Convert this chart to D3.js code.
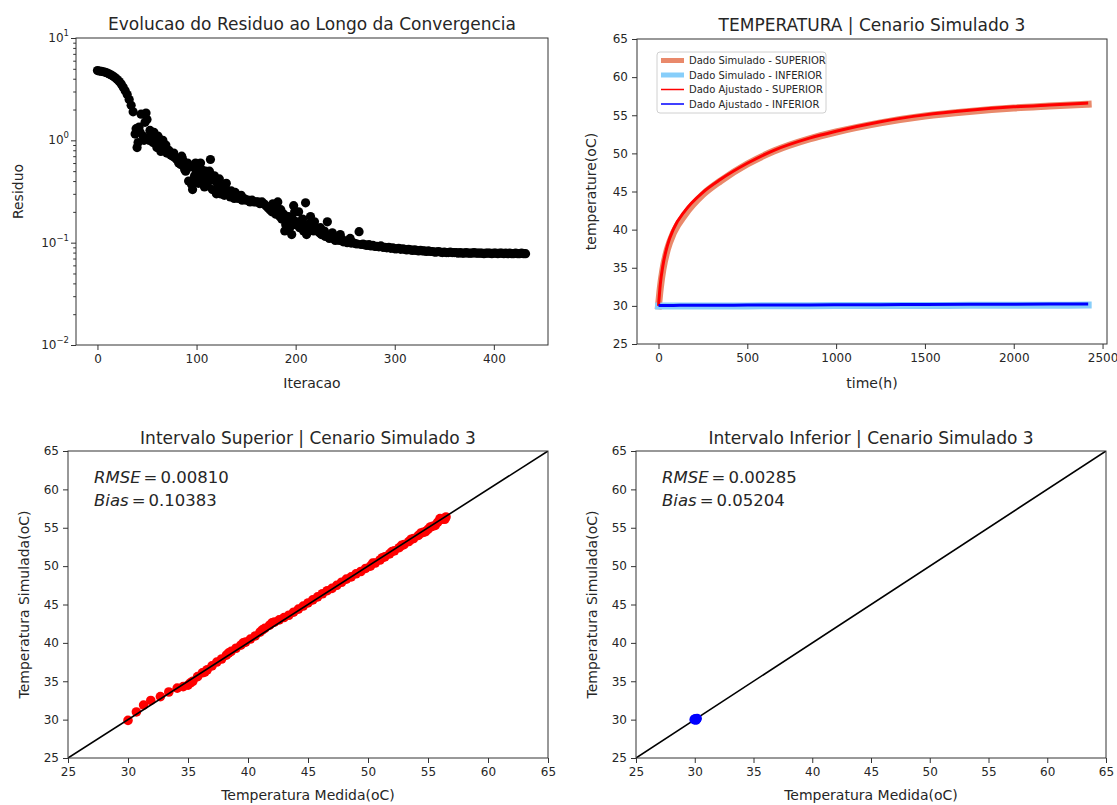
<!DOCTYPE html>
<html>
<head>
<meta charset="utf-8">
<script src="https://cdn.jsdelivr.net/npm/d3@7"></script>
<style>
body { margin: 0; background: #fff; }
text { font-family: "DejaVu Sans", sans-serif; fill: #262626; }
</style>
</head>
<body>
<svg width="1117" height="805"></svg>
<script>
// ---- residuo por iteracao (uma amostra a cada 2 iteracoes) ----
var passoIter = 2;
var residuo = [
  4.8, 4.75, 4.72, 4.68, 4.62, 4.55,
  4.45, 4.35, 4.22, 4.08, 3.92,
  3.75, 3.55, 3.3, 3.05, 2.8,
  2.5, 2.2, 1.9, 1.15,
  0.85, 1.35, 1.8, 1.1, 1.5, 1.6,
  1.0, 1.15, 0.95, 1.1, 0.85,
  1.05, 0.78, 1.0, 0.8, 0.75,
  0.8, 0.72, 0.7, 0.68, 0.65,
  0.6, 0.58, 0.65, 0.52, 0.55,
  0.4, 0.55, 0.33, 0.45, 0.5,
  0.38, 0.6, 0.42, 0.35, 0.48,
  0.4, 0.65, 0.33, 0.45, 0.3,
  0.36, 0.3, 0.33, 0.29, 0.38,
  0.3, 0.28, 0.3, 0.27, 0.29,
  0.27, 0.28, 0.26, 0.27, 0.26,
  0.26, 0.25, 0.26, 0.25, 0.25,
  0.25, 0.24, 0.25, 0.24, 0.23,
  0.22, 0.21, 0.2, 0.22, 0.19,
  0.25, 0.18, 0.17, 0.19, 0.15,
  0.16, 0.14, 0.12, 0.23, 0.15,
  0.16, 0.14, 0.15, 0.13, 0.245,
  0.15, 0.14, 0.16, 0.13, 0.14,
  0.13, 0.125, 0.12, 0.125, 0.115,
  0.16, 0.11, 0.115, 0.11, 0.105,
  0.11, 0.105, 0.11, 0.102, 0.104,
  0.1, 0.103, 0.099, 0.1, 0.098,
  0.097, 0.128, 0.096, 0.097, 0.095,
  0.094, 0.096, 0.093, 0.094, 0.092,
  0.092, 0.091, 0.093, 0.09, 0.09,
  0.089, 0.09, 0.088, 0.089, 0.087,
  0.087, 0.088, 0.086, 0.087, 0.086,
  0.085, 0.086, 0.085, 0.084, 0.085,
  0.084, 0.083, 0.084, 0.083, 0.083,
  0.082, 0.083, 0.082, 0.082, 0.081,
  0.081, 0.082, 0.081, 0.08, 0.081,
  0.08, 0.08, 0.081, 0.08, 0.08,
  0.08, 0.079, 0.08, 0.079, 0.079, 0.08, 0.079, 0.079, 0.079, 0.08, 0.079, 0.079,
  0.079, 0.079, 0.078, 0.079, 0.079, 0.079, 0.078, 0.079, 0.079, 0.078, 0.079, 0.079,
  0.078, 0.079, 0.078, 0.079, 0.078, 0.078, 0.079, 0.078, 0.078, 0.079, 0.078, 0.078
];
// pontos dispersos das iteracoes impares na fase instavel
var dispersosIter = [39, 41, 43, 47, 49, 53, 57, 59, 61, 63, 67, 69, 77, 85, 89, 91, 95, 97, 99, 101,
  103, 105, 107, 109, 111, 113, 115, 119, 121, 123, 127, 129, 135, 139, 145, 177, 181, 185, 189, 193,
  197, 199, 203, 207, 211, 215, 219, 225, 229, 237, 245, 255];
var dispersosRes = [1.3, 0.95, 1.2, 1.0, 1.85, 1.25, 1.2, 0.95, 1.1, 0.9, 0.85, 0.9, 0.75, 0.7, 0.5, 0.6, 0.37, 0.42, 0.6, 0.5,
  0.45, 0.52, 0.38, 0.5, 0.36, 0.5, 0.44, 0.4, 0.34, 0.42, 0.31, 0.35, 0.32, 0.31, 0.29, 0.24, 0.2, 0.21, 0.13, 0.18,
  0.17, 0.2, 0.2, 0.17, 0.12, 0.18, 0.16, 0.14, 0.13, 0.125, 0.12, 0.11];

// ---- temperatura ao longo do tempo ----
var tempo = [0, 10, 25, 50, 85, 150, 250, 350, 500, 650, 850, 1000, 1250, 1500, 1750, 2000, 2200, 2419];
var simSup = [30, 32.3, 34.8, 37.4, 39.6, 42.0, 44.6, 46.4, 48.6, 50.3, 51.9, 52.8, 54.0, 54.9, 55.5, 55.95, 56.2, 56.45];
var ajuSup = [30, 32.8, 35.3, 37.9, 40.1, 42.5, 44.9, 46.6, 48.7, 50.4, 52.0, 52.9, 54.15, 55.05, 55.65, 56.1, 56.35, 56.6];
var simInf = [30, 30, 30, 30, 30, 30, 30, 30, 30, 30.02, 30.03, 30.04, 30.05, 30.06, 30.07, 30.08, 30.09, 30.1];
var ajuInf = [30.05, 30.05, 30.05, 30.05, 30.06, 30.07, 30.08, 30.09, 30.1, 30.11, 30.13, 30.14, 30.16, 30.18, 30.2, 30.22, 30.24, 30.26];
var legendas = ["Dado Simulado - SUPERIOR", "Dado Simulado - INFERIOR", "Dado Ajustado - SUPERIOR", "Dado Ajustado - INFERIOR"];

// ---- medida x simulada ----
var medidaSup = [30.0, 30.7, 31.3, 31.9, 32.7, 33.4, 34.1, 34.6, 35.0, 35.4, 35.8, 36.2, 36.6, 37.0, 37.4, 37.8,
  38.2, 38.6, 39.0, 39.4, 39.8, 40.2, 40.6, 41.0, 41.4, 41.8, 42.2, 42.6, 43.0, 43.4, 43.8, 44.2, 44.6, 45.0,
  45.4, 45.8, 46.2, 46.6, 47.0, 47.4, 47.8, 48.2, 48.6, 49.0, 49.4, 49.8, 50.2, 50.6, 51.0, 51.4, 51.8, 52.2,
  52.6, 53.0, 53.4, 53.8, 54.2, 54.6, 55.0, 55.4, 55.8, 56.2, 56.5,
  50.4, 51.2, 52.0, 52.8, 53.6, 54.4, 55.2, 56.0, 56.4, 55.6, 54.8, 42.0, 41.2, 39.6, 38.4, 36.4, 35.2];
var simuladaSup = [29.9, 31.0, 31.9, 32.5, 33.0, 33.6, 34.1, 34.3, 34.5, 35.0, 35.6, 36.1, 36.5, 37.0, 37.5, 37.9,
  38.4, 38.9, 39.3, 39.7, 40.1, 40.5, 40.9, 41.4, 41.9, 42.3, 42.7, 43.0, 43.3, 43.6, 44.0, 44.4, 44.8, 45.2,
  45.6, 46.0, 46.4, 46.8, 47.1, 47.5, 47.9, 48.3, 48.6, 49.0, 49.3, 49.7, 50.0, 50.4, 50.8, 51.2, 51.6, 52.0,
  52.4, 52.8, 53.2, 53.6, 54.0, 54.4, 54.8, 55.2, 55.7, 56.1, 56.4,
  50.4, 51.1, 51.9, 52.7, 53.5, 54.3, 55.1, 56.2, 56.1, 55.3, 54.5, 42.6, 41.7, 40.0, 38.7, 36.2, 34.8];
var medidaInf = [29.95, 30.05, 30.15, 30.2, 30.1];
var simuladaInf = [30.0, 30.12, 30.02, 30.15, 29.95];
var diagonal = [25, 65];
var metricas = [
  { rmse: "0.00810", bias: "0.10383" },
  { rmse: "0.00285", bias: "0.05204" }
];

var ticksTemp = [25, 30, 35, 40, 45, 50, 55, 60, 65];
var ticksIter = [0, 100, 200, 300, 400];
var ticksTempo = [0, 500, 1000, 1500, 2000, 2500];
var decadas = [0.01, 0.1, 1, 10];
var expoentes = ["\u22122", "\u22121", "0", "1"];

var svg = d3.select("svg");
var corEixo = "#333";

function painel(x, y, id) {
  var g = svg.append("g");
  var r = x.range(), s = y.range();
  svg.append("clipPath").attr("id", id).append("rect")
    .attr("x", r[0]).attr("y", s[1]).attr("width", r[1] - r[0]).attr("height", s[0] - s[1]);
  var dados = g.append("g").attr("clip-path", "url(#" + id + ")");
  return { g: g, dados: dados };
}
function moldura(g, x, y) {
  var r = x.range(), s = y.range();
  g.append("rect").attr("x", r[0]).attr("y", s[1]).attr("width", r[1] - r[0]).attr("height", s[0] - s[1])
    .attr("fill", "none").attr("stroke", corEixo).attr("stroke-width", 1);
}
function estilo(a) {
  a.select(".domain").remove();
  a.attr("font-size", 12).attr("font-family", null);
  a.selectAll(".tick line").attr("stroke", corEixo);
}
function eixoX(g, x, y, ticks) {
  estilo(g.append("g").attr("transform", "translate(0," + y.range()[0] + ")")
    .call(d3.axisBottom(x).tickValues(ticks).tickSize(5).tickPadding(4).tickFormat(d3.format("d"))));
}
function eixoY(g, x, y, ticks) {
  estilo(g.append("g").attr("transform", "translate(" + x.range()[0] + ",0)")
    .call(d3.axisLeft(y).tickValues(ticks).tickSize(5).tickPadding(4).tickFormat(d3.format("d"))));
}
function titulo(g, x, y, texto, base) {
  var r = x.range();
  g.append("text").attr("x", (r[0] + r[1]) / 2).attr("y", base).attr("text-anchor", "middle")
    .attr("font-size", 17).text(texto);
}
function rotuloX(g, x, texto, base) {
  var r = x.range();
  g.append("text").attr("x", (r[0] + r[1]) / 2).attr("y", base).attr("text-anchor", "middle")
    .attr("font-size", 14).text(texto);
}
function rotuloY(g, y, texto, bx) {
  var s = y.range(), cy = (s[0] + s[1]) / 2;
  g.append("text").attr("transform", "translate(" + bx + "," + cy + ") rotate(-90)")
    .attr("text-anchor", "middle").attr("font-size", 14).text(texto);
}

// ================= painel 1: residuo =================
var xIter = d3.scaleLinear().domain([-21.65, 454.65]).range([76, 548]);
var yRes = d3.scaleLog().domain([0.01, 10]).range([345, 38]);
var p1 = painel(xIter, yRes, "c1");
p1.dados.selectAll("circle.r").data(residuo).enter().append("circle")
  .attr("cx", (d, i) => xIter(i * passoIter)).attr("cy", d => yRes(d)).attr("r", 4.6).attr("fill", "#000");
p1.dados.selectAll("circle.d").data(dispersosIter).enter().append("circle")
  .attr("cx", d => xIter(d)).attr("cy", (d, i) => yRes(dispersosRes[i])).attr("r", 4.6).attr("fill", "#000");
moldura(p1.g, xIter, yRes);
eixoX(p1.g, xIter, yRes, ticksIter);
var menores = [];
decadas.slice(0, -1).forEach(function (d) { for (var k = 2; k < 10; k++) menores.push(d * k); });
estilo(p1.g.append("g").attr("transform", "translate(76,0)")
  .call(d3.axisLeft(yRes).tickValues(decadas).tickSize(5).tickFormat("")));
estilo(p1.g.append("g").attr("transform", "translate(76,0)")
  .call(d3.axisLeft(yRes).tickValues(menores).tickSize(2.8).tickFormat("")));
decadas.forEach(function (d, i) {
  var t = p1.g.append("text").attr("x", 69).attr("y", yRes(d) + 4).attr("text-anchor", "end").attr("font-size", 12);
  t.append("tspan").text("10");
  t.append("tspan").attr("dy", -6).attr("font-size", 8.5).text(expoentes[i]);
});
titulo(p1.g, xIter, yRes, "Evolucao do Residuo ao Longo da Convergencia", 30);
rotuloX(p1.g, xIter, "Iteracao", 388);
rotuloY(p1.g, yRes, "Residuo", 23);

// ================= painel 2: temperatura =================
var xTempo = d3.scaleLinear().domain([-121, 2525]).range([637, 1107]);
var yTemp = d3.scaleLinear().domain([25, 65]).range([344, 39]);
var p2 = painel(xTempo, yTemp, "c2");
var linhaT = function (serie) {
  return d3.line().x((d, i) => xTempo(tempo[i])).y(d => yTemp(d)).curve(d3.curveMonotoneX)(serie);
};
var series = [
  { v: simSup, cor: "#E9896B", w: 7, cap: "square" },
  { v: simInf, cor: "#87CEFA", w: 7, cap: "square" },
  { v: ajuSup, cor: "#FF0000", w: 3, cap: "butt" },
  { v: ajuInf, cor: "#0000FF", w: 3, cap: "butt" }
];
series.forEach(function (s) {
  p2.dados.append("path").attr("d", linhaT(s.v)).attr("fill", "none")
    .attr("stroke", s.cor).attr("stroke-width", s.w).attr("stroke-linecap", s.cap);
});
moldura(p2.g, xTempo, yTemp);
eixoX(p2.g, xTempo, yTemp, ticksTempo);
eixoY(p2.g, xTempo, yTemp, ticksTemp);
titulo(p2.g, xTempo, yTemp, "TEMPERATURA | Cenario Simulado 3", 31);
rotuloX(p2.g, xTempo, "time(h)", 388);
rotuloY(p2.g, yTemp, "temperature(oC)", 596);
// legenda
var leg = p2.g.append("g").attr("transform", "translate(657,52)");
leg.append("rect").attr("width", 169).attr("height", 61).attr("rx", 3)
  .attr("fill", "#fff").attr("fill-opacity", 0.8).attr("stroke", "#d0d0d0");
legendas.forEach(function (txt, i) {
  var yy = 8.5 + i * 14.5;
  leg.append("line").attr("x1", 4).attr("x2", 27).attr("y1", yy).attr("y2", yy)
    .attr("stroke", series[i].cor).attr("stroke-width", i < 2 ? 5 : 1.5);
  leg.append("text").attr("x", 32).attr("y", yy + 3.5).attr("font-size", 10).text(txt);
});

// ================= paineis 3 e 4: dispersao =================
function dispersao(x0, x1, id, medida, simulada, cor, tituloTxt, m, labelX, linhaPorCima) {
  var x = d3.scaleLinear().domain(diagonal).range([x0, x1]);
  var y = d3.scaleLinear().domain(diagonal).range([758, 451]);
  var p = painel(x, y, id);
  var desenhaLinha = function () {
    p.dados.append("line").attr("x1", x(diagonal[0])).attr("y1", y(diagonal[0]))
      .attr("x2", x(diagonal[1])).attr("y2", y(diagonal[1])).attr("stroke", "#000").attr("stroke-width", 1.6);
  };
  if (!linhaPorCima) desenhaLinha();
  p.dados.selectAll("circle").data(medida).enter().append("circle")
    .attr("cx", d => x(d)).attr("cy", (d, i) => y(simulada[i])).attr("r", 4.8).attr("fill", cor);
  if (linhaPorCima) desenhaLinha();
  moldura(p.g, x, y);
  eixoX(p.g, x, y, ticksTemp);
  eixoY(p.g, x, y, ticksTemp);
  titulo(p.g, x, y, tituloTxt, 444);
  rotuloX(p.g, x, "Temperatura Medida(oC)", 800);
  rotuloY(p.g, y, "Temperatura Simulada(oC)", labelX);
  [["RMSE", m.rmse, 483], ["Bias", m.bias, 506]].forEach(function (l) {
    var t = p.g.append("text").attr("x", x0 + 26).attr("y", l[2]).attr("font-size", 16.5);
    t.append("tspan").attr("font-style", "italic").text(l[0]);
    t.append("tspan").attr("dx", 3).text("=");
    t.append("tspan").attr("dx", 3).text(l[1]);
  });
}
dispersao(68, 548, "c3", medidaSup, simuladaSup, "#FF0000", "Intervalo Superior | Cenario Simulado 3", metricas[0], 29, true);
dispersao(636, 1106, "c4", medidaInf, simuladaInf, "#0000FF", "Intervalo Inferior | Cenario Simulado 3", metricas[1], 597, false);
</script>
</body>
</html>
